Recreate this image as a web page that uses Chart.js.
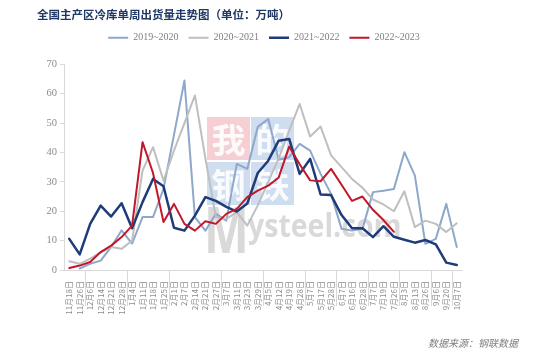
<!DOCTYPE html>
<html><head><meta charset="utf-8">
<script src="https://cdn.jsdelivr.net/npm/chart.js@4.4.0/dist/chart.umd.min.js"></script>
<style>html,body{margin:0;padding:0;background:#fff}#wrap{width:554px;height:363px}</style>
</head><body><div id="wrap"><canvas id="c" width="554" height="363"></canvas></div>
<script>
const titleText = '全国主产区冷库单周出货量走势图（单位：万吨）';
const sourceText = '数据来源：钢联数据';
const categories = ['11月18日','11月26日','12月6日','12月14日','12月21日','12月28日','1月4日','1月11日','1月18日','1月25日',
  '2月1日','2月7日','2月14日','2月21日','2月27日','3月7日','3月11日','3月23日','3月29日','4月5日',
  '4月12日','4月19日','4月28日','5月7日','5月17日','5月28日','6月7日','6月16日','6月28日','7月7日',
  '7月19日','7月26日','8月3日','8月13日','8月26日','9月6日','9月20日','10月7日'];
const seriesNames = ['2019~2020','2020~2021','2021~2022','2022~2023'];
const s2019 = [null,0.5,2.1,3.2,7.8,13.5,9,18,18,27.6,46,64.5,18,13.4,19.1,16.8,36.1,34.4,48.7,51.4,
  37.5,38.4,42.9,40.6,32.7,25.9,14,13.4,14,26.5,27,27.6,40.1,32.1,8.9,10.6,22.5,7.8];
const s2020 = [3.0,2.1,3.9,6,7.8,7.2,10,33.8,41.8,30.4,40.6,50,59.4,38,18,17.4,19.7,15.1,22,30,
  38,47.4,56.5,45.4,48.8,39,35,31,28,24,22.3,20,26.8,14.6,16.8,15.7,12.9,15.9];
const s2021 = [10.6,5.3,15.7,21.9,18.2,22.7,14.2,23.1,31,28.5,14.4,13.4,18.5,24.8,23.5,21.5,19.9,22.6,33,37.2,
  44,44.6,32.7,37.8,25.7,25.5,18.7,14.2,14.2,11.2,14.9,11.3,10.3,9.3,10.2,8.7,2.5,1.7];
const s2022 = [0.7,1.5,2.7,6.1,8.3,11.2,15.1,43.5,33,16.3,22.5,15.7,13.4,16.6,15.7,19.1,20.8,24.8,27,28.7,
  31.5,42,36,30.5,30.2,34.4,29,23.5,25,20.5,17,13,null,null,null,null,null,null];
const yTickValues = [0,10,20,30,40,50,60,70];
const seriesValues = [s2019, s2020, s2021, s2022];
const seriesColors = ['#8EA7CB','#BFBFBF','#1F3C78','#C0182A'];
const seriesWidths = [2, 2, 2.5, 2];

const watermark = {
  id: 'watermark',
  beforeDatasetsDraw(chart) {
    const ctx = chart.ctx;
    ctx.save();
    const blocks = [
      {x: 207, y: 117, c: 'rgba(236,160,170,0.5)', t: '我'},
      {x: 251, y: 117, c: 'rgba(160,188,225,0.5)', t: '的'},
      {x: 207, y: 162, c: 'rgba(160,188,225,0.5)', t: '钢'},
      {x: 251, y: 162, c: 'rgba(160,188,225,0.5)', t: '铁'}
    ];
    blocks.forEach(b => {
      ctx.fillStyle = b.c;
      ctx.fillRect(b.x, b.y, 43, 43);
      ctx.fillStyle = 'rgba(255,255,255,0.9)';
      ctx.font = 'bold 34px "Noto Sans CJK SC"';
      ctx.textAlign = 'center';
      ctx.textBaseline = 'middle';
      ctx.fillText(b.t, b.x + 21.5, b.y + 23);
    });
    ctx.fillStyle = 'rgba(170,170,170,0.45)';
    ctx.textAlign = 'left';
    ctx.textBaseline = 'alphabetic';
    ctx.save();
    ctx.translate(204, 253);
    ctx.scale(0.95, 1.3);
    ctx.font = 'bold 50px "Open Sans"';
    ctx.fillText('M', 0, 0);
    ctx.restore();
    ctx.save();
    ctx.translate(248, 237);
    ctx.scale(0.95, 1.05);
    ctx.font = 'bold 30px "Open Sans"';
    ctx.fillText('ysteel.com', 0, 0);
    ctx.restore();
    ctx.restore();
  }
};

const monthSeparators = {
  id: 'monthSeparators',
  afterDraw(chart) {
    const xs = chart.scales.x;
    const y0 = chart.chartArea.bottom;
    const ctx = chart.ctx;
    ctx.save();
    ctx.strokeStyle = '#D9D9D9';
    ctx.lineWidth = 1;
    const month = s => s.split('月')[0];
    for (let i = 0; i < categories.length - 1; i++) {
      if (month(categories[i]) !== month(categories[i + 1])) {
        const x = Math.round((xs.getPixelForValue(i) + xs.getPixelForValue(i + 1)) / 2) + 0.5;
        ctx.beginPath(); ctx.moveTo(x, y0); ctx.lineTo(x, y0 + 36); ctx.stroke();
      }
    }
    ctx.restore();
  }
};

const footnote = {
  id: 'footnote',
  afterDraw(chart) {
    const ctx = chart.ctx;
    ctx.save();
    ctx.fillStyle = '#7F7F7F';
    ctx.font = 'italic 10px "Noto Sans CJK SC"';
    ctx.textAlign = 'left';
    ctx.textBaseline = 'middle';
    ctx.fillText(sourceText, 428, 343);
    ctx.restore();
  }
};

new Chart(document.getElementById('c'), {
  type: 'line',
  data: {
    labels: categories,
    datasets: seriesNames.map((name, k) => ({
      label: name,
      data: seriesValues[k],
      borderColor: seriesColors[k],
      backgroundColor: seriesColors[k],
      borderWidth: seriesWidths[k],
      pointRadius: 0,
      tension: 0,
      fill: false,
      spanGaps: false,
      borderJoinStyle: 'round',
      borderCapStyle: 'round',
      order: 4 - k
    }))
  },
  options: {
    responsive: false,
    animation: false,
    devicePixelRatio: 1,
    layout: {padding: {left: 37, right: 63, top: 0, bottom: 0}},
    plugins: {
      tooltip: {enabled: false},
      title: {
        display: true, text: titleText, align: 'start', color: '#1F3864',
        font: {family: '"Noto Sans CJK SC"', size: 11.5, weight: 'bold'},
        padding: {top: 8, bottom: 1}
      },
      legend: {
        display: true, position: 'top', align: 'center',
        labels: {
          usePointStyle: true, pointStyle: 'line', pointStyleWidth: 20,
          color: '#7F7F7F', font: {family: '"Liberation Serif"', size: 10}, padding: 10,
          sort: (a, b) => a.datasetIndex - b.datasetIndex
        }
      }
    },
    scales: {
      x: {
        type: 'category', offset: true,
        afterFit: s => { s.height = 93; },
        grid: {display: false},
        border: {display: true, color: '#D9D9D9', width: 1},
        ticks: {
          autoSkip: false, minRotation: 90, maxRotation: 90, padding: 3,
          color: '#8C8C8C', font: {family: '"Noto Sans CJK SC"', size: 8}
        }
      },
      y: {
        min: 0, max: 70,
        afterBuildTicks: s => { s.ticks = yTickValues.map(v => ({value: v})); },
        afterFit: s => { s.width = 27; },
        grid: {display: true, drawOnChartArea: false, drawTicks: true, tickLength: 4, color: '#D9D9D9'},
        border: {display: true, color: '#D9D9D9', width: 1},
        ticks: {padding: 3, color: '#8C8C8C', font: {family: '"Liberation Serif"', size: 10.5}}
      },
      xTop: {
        type: 'linear', position: 'top', display: true,
        grid: {display: false}, border: {display: false}, ticks: {display: false},
        afterFit: s => { s.height = 11.5; }
      },
      yRight: {
        type: 'linear', position: 'right', display: true,
        grid: {display: false}, border: {display: false}, ticks: {display: false},
        afterFit: s => { s.width = 29; }
      }
    }
  },
  plugins: [watermark, monthSeparators, footnote]
});
</script>
</body></html>
